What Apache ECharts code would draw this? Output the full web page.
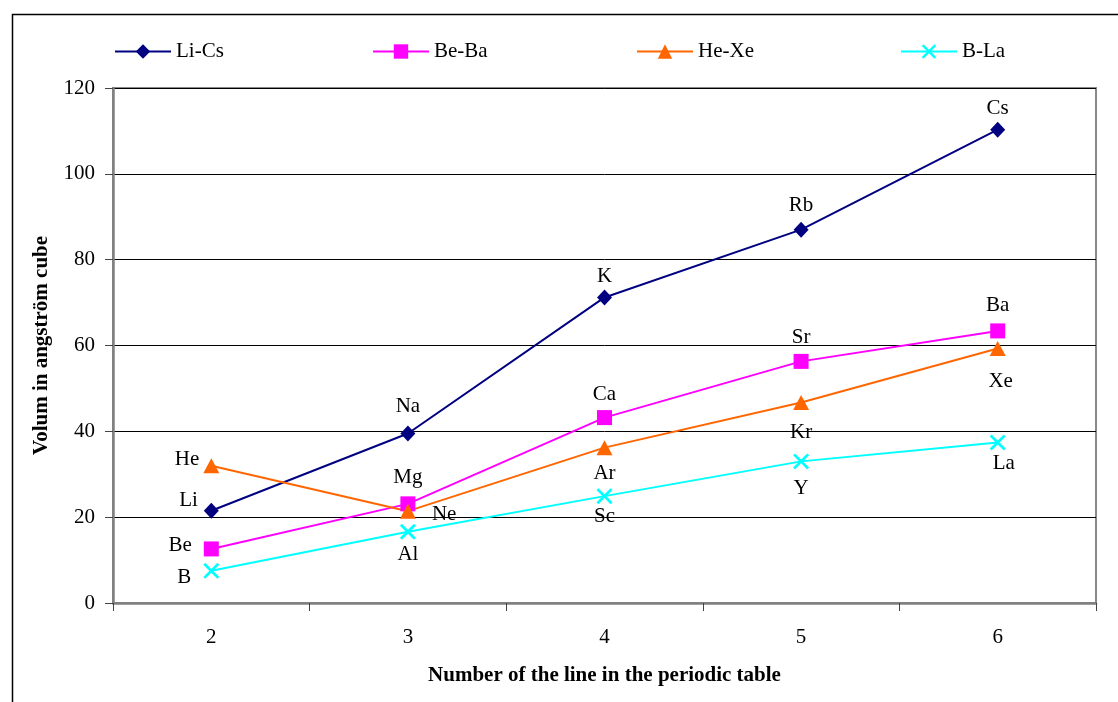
<!DOCTYPE html>
<html><head><meta charset="utf-8">
<script src="https://cdn.jsdelivr.net/npm/echarts@6/dist/echarts.min.js"></script>
<style>html,body{margin:0;padding:0;background:#fff}#c{width:1118px;height:702px}</style>
</head><body><div id="c"></div>
<script>
const categories = ['2','3','4','5','6'];
const seriesNames = ['Li-Cs','Be-Ba','He-Xe','B-La'];
const liCs = [21.5, 39.5, 71.2, 87.0, 110.3];
const beBa = [12.6, 23.1, 43.2, 56.3, 63.4];
const heXe = [32.0, 21.4, 36.2, 46.7, 59.3];
const bLa = [7.5, 16.6, 24.9, 33.0, 37.4];
const liCsLabels = ['Li','Na','K','Rb','Cs'];
const beBaLabels = ['Be','Mg','Ca','Sr','Ba'];
const heXeLabels = ['He','Ne','Ar','Kr','Xe'];
const bLaLabels = ['B','Al','Sc','Y','La'];

// label placement (style only)
const place = {
  Li:{position:'left',distance:6,offset:[0,-10]},
  Na:{position:'top',distance:8}, K:{position:'top',distance:2}, Rb:{position:'top',distance:6}, Cs:{position:'top',distance:3},
  Be:{position:'left',distance:12,offset:[0,-3]},
  Mg:{position:'top',distance:8}, Ca:{position:'top',distance:5}, Sr:{position:'top',distance:6}, Ba:{position:'top',distance:7},
  He:{position:'left',distance:4,offset:[0,-6]},
  Ne:{position:'right',distance:16,offset:[0,3]},
  Ar:{position:'bottom',distance:8}, Kr:{position:'bottom',distance:12}, Xe:{position:'bottom',distance:15,offset:[3,0]},
  B:{position:'left',distance:12,offset:[0,7]},
  Al:{position:'bottom',distance:4}, Sc:{position:'bottom',distance:2}, Y:{position:'bottom',distance:9}, La:{position:'bottom',distance:2,offset:[6,0]}
};
const serif = '"Liberation Serif","Times New Roman",serif';
function build(vals, labels){
  return vals.map((v,i)=>({value:v, label:Object.assign({show:true, formatter:labels[i], color:'#000', fontFamily:serif, fontSize:21}, place[labels[i]])}));
}
const xSym = 'path://M0,1.2L1.2,0L5,3.8L8.8,0L10,1.2L6.2,5L10,8.8L8.8,10L5,6.2L1.2,10L0,8.8L3.8,5Z';
const colors = ['#000080','#FF00FF','#FF6600','#00FFFF'];
const symbols = ['diamond','rect','triangle',xSym];
const sizes = [[15,16],15,[16,15],16];
const allVals = [liCs,beBa,heXe,bLa];
const allLabels = [liCsLabels,beBaLabels,heXeLabels,bLaLabels];
const legendLeft = [114,372,636,900];

const chart = echarts.init(document.getElementById('c'));
chart.setOption({
  animation:false,
  backgroundColor:'#fff',
  graphic:[{type:'rect',left:10,top:12,shape:{width:1200,height:800},style:{fill:'none',stroke:'#000',lineWidth:1.5},silent:true,z:-1}],
  legend: seriesNames.map((n,i)=>({data:[{name:n}], left:legendLeft[i], top:41, padding:0, itemWidth:56, itemHeight:18, itemGap:4,
    textStyle:{fontFamily:serif, fontSize:21, color:'#000'}})),
  grid:{left:113, top:88, right:22, bottom:99, show:true, borderColor:'#888', borderWidth:2},
  xAxis:{type:'category', data:categories, boundaryGap:true,
    axisLine:{lineStyle:{color:'#808080',width:2.5}},
    axisTick:{show:true, length:8, lineStyle:{color:'#444'}},
    axisLabel:{color:'#000', fontFamily:serif, fontSize:21, margin:24},
    name:'Number of the line in the periodic table', nameLocation:'middle', nameGap:62,
    nameTextStyle:{color:'#000', fontFamily:serif, fontSize:21, fontWeight:'bold'}},
  yAxis:{type:'value', min:0, max:120, interval:20,
    axisLine:{show:true, lineStyle:{color:'#808080',width:2.5}},
    axisTick:{show:true, length:8, lineStyle:{color:'#444'}},
    axisLabel:{color:'#000', fontFamily:serif, fontSize:21, margin:18},
    splitLine:{lineStyle:{color:'#000',width:1}},
    name:'Volum in angström cube', nameLocation:'middle', nameGap:61,
    nameTextStyle:{color:'#000', fontFamily:serif, fontSize:21, fontWeight:'bold'}},
  series: seriesNames.map((n,i)=>({
    name:n, type:'line', data:build(allVals[i], allLabels[i]),
    symbol:symbols[i], symbolSize:sizes[i], showAllSymbol:true,
    itemStyle:{color:colors[i]}, lineStyle:{color:colors[i], width:2},
    emphasis:{disabled:true}
  }))
});
</script></body></html>
